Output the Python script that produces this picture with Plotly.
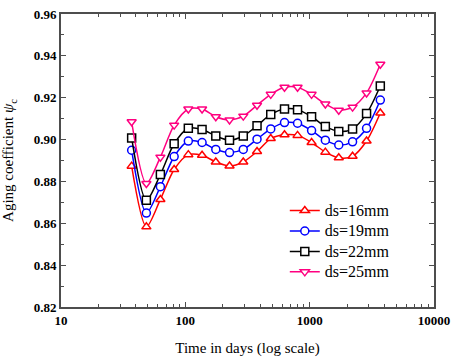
import plotly.graph_objects as go

days = [37, 48.6, 63, 81.3, 105.7, 136.3, 175.8, 226.7, 292.4, 377.3, 486.4,
        627.6, 799, 1036, 1337, 1714, 2213, 2868, 3700]

ds16 = [0.8873, 0.8583, 0.8714, 0.8857, 0.8928, 0.8925, 0.8893, 0.8874, 0.8893, 0.8943,
        0.9005, 0.9023, 0.9020, 0.8986, 0.8940, 0.8913, 0.8920, 0.8993, 0.9127]
ds19 = [0.8949, 0.8649, 0.8775, 0.8919, 0.8993, 0.8986, 0.8953, 0.8938, 0.8953, 0.9002,
        0.9051, 0.9081, 0.9078, 0.9043, 0.8997, 0.8974, 0.8989, 0.9054, 0.9189]
ds22 = [0.9008, 0.8710, 0.8833, 0.8980, 0.9054, 0.9048, 0.9017, 0.8997, 0.9017, 0.9066,
        0.9120, 0.9146, 0.9143, 0.9109, 0.9063, 0.9039, 0.9051, 0.9124, 0.9256]
ds25 = [0.9085, 0.8790, 0.8916, 0.9069, 0.9146, 0.9146, 0.9109, 0.9094, 0.9112, 0.9164,
        0.9216, 0.9250, 0.9250, 0.9216, 0.9170, 0.9140, 0.9155, 0.9223, 0.9360]

x_tickvals = [10, 100, 1000, 10000]
x_ticktext = ["10", "100", "1000", "10000"]

names = ["ds=16mm", "ds=19mm", "ds=22mm", "ds=25mm"]
colors = ["#FF0000", "#0000FF", "#000000", "#FF0080"]
symbols = ["triangle-up", "circle", "square", "triangle-down"]
series = [ds16, ds19, ds22, ds25]

FONT = "Liberation Serif, Times New Roman, serif"

fig = go.Figure()
for name, col, sym, vals in zip(names, colors, symbols, series):
    fig.add_trace(go.Scatter(
        x=days, y=vals, mode="lines+markers",
        name="<span style='font-size:16px'>" + name + "</span>",
        line=dict(color=col, width=1.5, shape="spline", smoothing=0.8),
        marker=dict(symbol=sym, size=8, color="white",
                    line=dict(color=col, width=1.5)),
    ))

axis_common = dict(
    showline=True, linecolor="#4d4d4d", linewidth=2, mirror="ticks",
    ticks="inside", ticklen=5, tickwidth=1.2, tickcolor="#4d4d4d",
    showgrid=False, zeroline=False, ticklabeloverflow="allow",
    tickfont=dict(family=FONT, size=13, color="black", weight="bold"),
)

fig.update_xaxes(
    type="log", range=[1, 4], tickvals=x_tickvals, ticktext=x_ticktext,
    minor=dict(ticks="inside", ticklen=3, tickcolor="#4d4d4d", dtick="D1", showgrid=False),
    title=dict(text="Time in days (log scale)", font=dict(family=FONT, size=15, color="black"),
               standoff=16),
    **axis_common,
)
fig.update_yaxes(
    range=[0.82, 0.96], dtick=0.02, tickformat=".2f",
    minor=dict(ticks="inside", ticklen=3, tickcolor="#4d4d4d", dtick=0.01, showgrid=False),
    title=dict(text="Aging coefficient <i>ψ</i><sub>c</sub>",
               font=dict(family=FONT, size=15, color="black"), standoff=16),
    **axis_common,
)

fig.update_layout(
    width=457, height=361,
    margin=dict(l=58, r=19, t=7, b=50),
    plot_bgcolor="white", paper_bgcolor="white",
    legend=dict(x=0.60, y=0.381, xanchor="left", yanchor="top",
                font=dict(family=FONT, size=13.4, color="black"),
                bgcolor="rgba(0,0,0,0)", tracegroupgap=0),
    showlegend=True,
)

fig.write_html("out.html", config={"displayModeBar": False},
               post_script="document.body.style.margin='0';document.body.style.padding='0';")
